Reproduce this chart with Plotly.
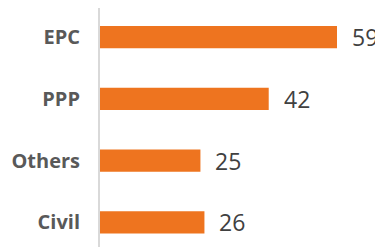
import plotly.graph_objects as go

categories = ["EPC", "PPP", "Others", "Civil"]
values = [59, 42, 25, 26]
value_labels = ["59", "42", "25", "26"]

bar_color = "#EE741F"

fig = go.Figure()
fig.add_trace(go.Bar(
    y=categories, x=values, orientation="h",
    marker=dict(color=bar_color, line=dict(width=0)),
    width=0.36, hoverinfo="skip",
))

for c, v, t in zip(categories, values, value_labels):
    fig.add_annotation(
        x=v, y=c, text=t, showarrow=False, xanchor="left", yanchor="middle",
        xshift=13, yshift=0,
        font=dict(family="Open Sans", size=23, color="#404040"),
    )

# page body has an 8px margin; figure sized so it ends at the window edge
fig.update_layout(
    width=375, height=239,
    margin=dict(l=92, r=0, t=0, b=0, autoexpand=False),
    paper_bgcolor="white", plot_bgcolor="white",
    showlegend=False,
    xaxis=dict(range=[0, 70.45], visible=False, fixedrange=True),
    yaxis=dict(
        categoryorder="array", categoryarray=categories,
        range=[3.40, -0.47], automargin=False,
        showgrid=False, zeroline=False,
        showline=True, linecolor="#D9D9D9", linewidth=2,
        ticks="", ticklabelstandoff=14,
        tickfont=dict(family="Open Sans", size=20, color="#595959", weight="bold"),
    ),
)

fig.write_html("out.html")
